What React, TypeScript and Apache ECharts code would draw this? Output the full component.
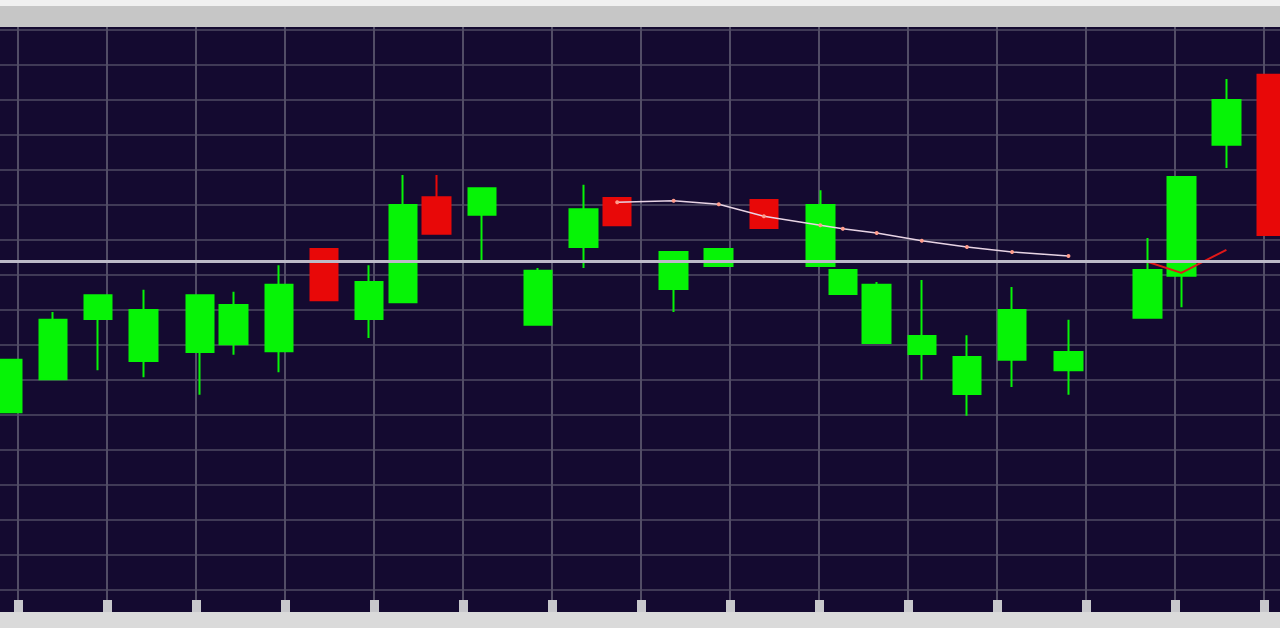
import React, { useEffect, useRef } from "react";
import * as echarts from "echarts";

// Trading dates (irregular sessions)
const dates = [
  "2024-01-01", "2024-01-05", "2024-01-09", "2024-01-13", "2024-01-18", "2024-01-21",
  "2024-01-25", "2024-01-29", "2024-02-02", "2024-02-05", "2024-02-08", "2024-02-12",
  "2024-02-17", "2024-02-21", "2024-02-24", "2024-02-29", "2024-03-04", "2024-03-08",
  "2024-03-13", "2024-03-15", "2024-03-18", "2024-03-22", "2024-03-26", "2024-03-30",
  "2024-04-04", "2024-04-11", "2024-04-14", "2024-04-18", "2024-04-22",
];
const opens = [
  125.4, 130.1, 138.7, 132.7, 134.0, 135.1, 134.1, 148.7, 138.7, 141.1, 156.1, 153.6,
  137.9, 149.0, 156.0, 143.0, 146.3, 155.7, 146.3, 142.3, 135.3, 133.7, 128.0, 132.9,
  131.4, 138.9, 144.9, 163.6, 173.6,
];
const closes = [
  132.9, 138.6, 142.1, 140.0, 142.1, 140.7, 143.6, 141.4, 144.0, 155.0, 150.9, 157.4,
  145.6, 154.4, 152.1, 148.3, 148.7, 151.7, 155.0, 145.7, 143.6, 136.3, 133.3, 140.0,
  134.0, 145.7, 159.0, 170.0, 150.7,
];
const lows = [
  125.4, 130.1, 131.4, 130.4, 127.9, 133.6, 131.1, 141.4, 136.0, 141.1, 150.9, 146.7,
  137.9, 146.0, 152.1, 139.7, 146.3, 151.7, 146.3, 142.3, 135.3, 130.0, 124.9, 129.0,
  127.9, 138.9, 140.4, 160.3, 150.7,
];
const highs = [
  132.9, 139.7, 142.1, 142.9, 142.1, 142.6, 146.4, 148.7, 146.4, 159.3, 159.3, 157.4,
  146.0, 157.9, 156.0, 148.3, 148.7, 155.7, 157.1, 145.7, 144.0, 144.3, 136.4, 143.3,
  138.6, 150.3, 159.0, 173.0, 173.6,
];
// moving-average style trend line (pale) and tail (red)
const trendLine: (number | null)[] = [
  null, null, null, null, null, null, null, null, null, null, null, null, null, null,
  155.4, 155.6, 155.1, 153.4, 152.1, 151.6, 151.0, 149.9, 149.0, 148.3, 147.7,
  null, null, null, null,
];
const tailLine: (number | null)[] = [
  null, null, null, null, null, null, null, null, null, null, null, null, null, null,
  null, null, null, null, null, null, null, null, null, null, null,
  146.9, 145.3, 148.6, null,
];
const referencePrice = 146.9;

const ts = (d: string) => new Date(d + "T00:00:00Z").getTime();

export default function App() {
  const ref = useRef<HTMLDivElement>(null);
  useEffect(() => {
    if (!ref.current) return;
    const chart = echarts.init(ref.current, null, { renderer: "svg" });
    const candleData = dates.map((d, i) => [ts(d), opens[i], closes[i], lows[i], highs[i]]);
    const lineData = (arr: (number | null)[]) =>
      dates.map((d, i) => [ts(d), arr[i] == null ? "-" : arr[i]]);
    chart.setOption({
      animation: false,
      backgroundColor: "#140a30",
      grid: [
        { left: 0, right: 0, top: 30, bottom: 38 },
        { left: 18, right: 16, top: 27, bottom: 16 },
      ],
      xAxis: [
        {
          type: "time",
          gridIndex: 0,
          min: Date.UTC(2023, 11, 31, 7),
          max: Date.UTC(2024, 3, 22, 18),
          axisLine: { show: false },
          axisTick: { show: false },
          axisLabel: { show: false },
          splitLine: { show: false },
        },
        {
          type: "value",
          gridIndex: 1,
          min: 0,
          max: 14,
          interval: 1,
          axisLine: { show: false },
          axisTick: { show: true, inside: true, length: 12, lineStyle: { color: "#c8c8cc", width: 9 } },
          axisLabel: { show: false },
          splitLine: { show: true, lineStyle: { color: "#524d66", width: 2 } },
        },
      ],
      yAxis: [
        {
          type: "value",
          gridIndex: 0,
          min: 100,
          max: 180,
          interval: 5,
          axisLine: { show: false },
          axisTick: { show: false },
          axisLabel: { show: false },
          splitLine: { show: true, lineStyle: { color: "#403a56", width: 2 } },
        },
        { type: "value", gridIndex: 1, show: false, splitLine: { show: false } },
      ],
      series: [
        {
          type: "candlestick",
          xAxisIndex: 0,
          yAxisIndex: 0,
          barWidth: 28,
          encode: { x: 0, y: [1, 2, 3, 4] },
          data: candleData,
          itemStyle: {
            color: "#06f406",
            color0: "#e80808",
            borderColor: "#06f406",
            borderColor0: "#e80808",
            borderWidth: 2,
          },
          markLine: {
            silent: true,
            symbol: "none",
            label: { show: false },
            lineStyle: { color: "#bdbac8", width: 3, type: "solid" },
            data: [{ yAxis: referencePrice }],
          },
          z: 3,
        },
        {
          type: "line",
          xAxisIndex: 0,
          yAxisIndex: 0,
          data: lineData(trendLine),
          showSymbol: true,
          symbol: "circle",
          symbolSize: 4,
          itemStyle: { color: "#ff9c8c" },
          lineStyle: { color: "#e8d4e4", width: 1.5 },
          z: 4,
        },
        {
          type: "line",
          xAxisIndex: 0,
          yAxisIndex: 0,
          data: lineData(tailLine),
          showSymbol: false,
          lineStyle: { color: "#e01818", width: 2 },
          z: 4,
        },
      ],
      graphic: [
        { type: "rect", left: 0, top: 0, shape: { width: 1280, height: 27 }, style: { fill: "#c6c6c6" }, z: 100 },
        { type: "rect", left: 0, top: 0, shape: { width: 1280, height: 6 }, style: { fill: "#f0f0f0" }, z: 101 },
        { type: "rect", left: 0, top: 612, shape: { width: 1280, height: 16 }, style: { fill: "#dadada" }, z: 100 },
      ],
    });
    return () => chart.dispose();
  }, []);
  return <div ref={ref} style={{ position: "fixed", left: 0, top: 0, width: 1280, height: 628 }} />;
}
